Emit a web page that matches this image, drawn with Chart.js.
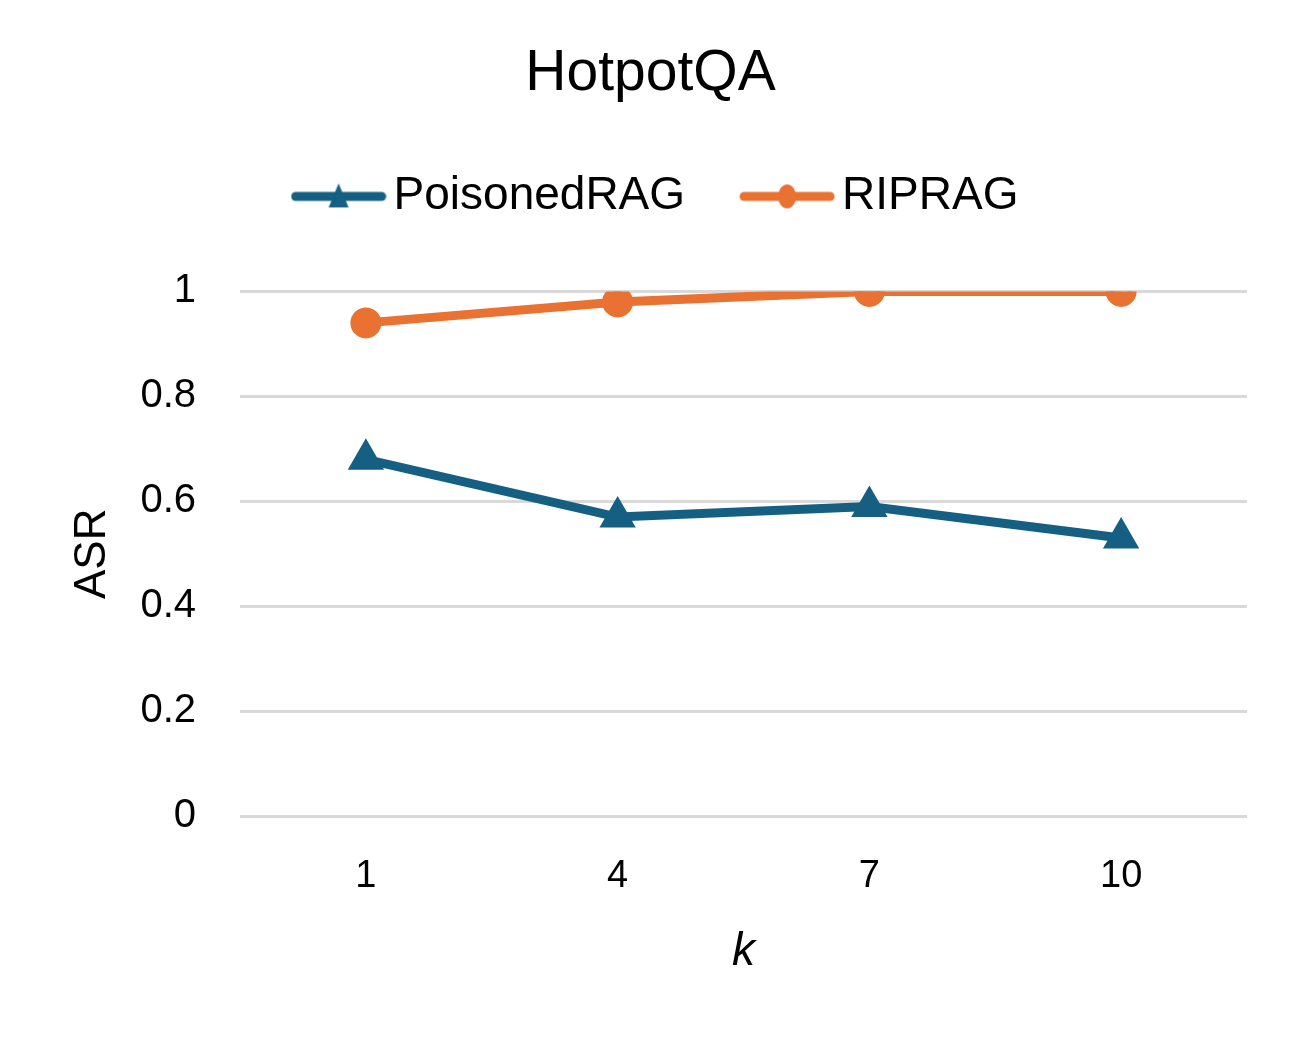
<!DOCTYPE html>
<html>
<head>
<meta charset="utf-8">
<script src="https://cdn.jsdelivr.net/npm/chart.js"></script>
<style>
    html, body { margin: 0; padding: 0; background: #ffffff; }
    #wrap { width: 1298px; height: 1039px; position: relative; }
</style>
</head>
<body>
<div id="wrap"><canvas id="asr-chart"></canvas></div>
<script>
const kValues = ['1', '4', '7', '10'];
const poisonedRagAsr = [0.68, 0.57, 0.59, 0.53];
const ripragAsr = [0.94, 0.98, 1.0, 1.0];
const yTicks = [0, 0.2, 0.4, 0.6, 0.8, 1];

const blue = '#156082';
const orange = '#e97132';
const fontName = "'Liberation Sans', Arial, sans-serif";

// legend swatch: a short line with the marker in the middle
function makeSwatch(color, marker) {
    const c = document.createElement('canvas');
    c.width = 96;
    c.height = 34;
    const ctx = c.getContext('2d');
    ctx.strokeStyle = color;
    ctx.lineWidth = 9;
    ctx.lineCap = 'round';
    ctx.beginPath();
    ctx.moveTo(5, 17);
    ctx.lineTo(91, 17);
    ctx.stroke();
    ctx.fillStyle = color;
    ctx.beginPath();
    if (marker === 'triangle') {
        ctx.moveTo(48, 4);
        ctx.lineTo(58, 28);
        ctx.lineTo(38, 28);
        ctx.closePath();
    } else {
        ctx.ellipse(48, 17, 9, 12, 0, 0, Math.PI * 2);
    }
    ctx.fill();
    return c;
}

const swatches = [makeSwatch(blue, 'triangle'), makeSwatch(orange, 'circle')];

// extra room under the legend, and nudge the row a bit to the right
const legendGap = {
    id: 'legendGap',
    beforeInit(chart) {
        const fit = chart.legend.fit;
        chart.legend.fit = function() {
            fit.call(this);
            this.height += 62;
            if (this.lineWidths && this.lineWidths.length) {
                this.lineWidths[0] -= 24;
            }
        };
    }
};

new Chart(document.getElementById('asr-chart'), {
    type: 'line',
    data: {
        labels: kValues,
        datasets: [
            {
                label: 'PoisonedRAG',
                data: poisonedRagAsr,
                borderColor: blue,
                backgroundColor: blue,
                borderWidth: 9,
                pointStyle: 'triangle',
                pointRadius: 12,
                pointHoverRadius: 12,
                tension: 0
            },
            {
                label: 'RIPRAG',
                data: ripragAsr,
                borderColor: orange,
                backgroundColor: orange,
                borderWidth: 9,
                pointStyle: 'circle',
                pointRadius: 11,
                pointHoverRadius: 11,
                tension: 0
            }
        ]
    },
    options: {
        responsive: true,
        maintainAspectRatio: false,
        animation: false,
        layout: { padding: { top: 40, right: 51, left: 54, bottom: 55 } },
        scales: {
            x: {
                offset: true,
                grid: { display: false, drawTicks: false },
                border: { display: false },
                ticks: { color: '#000', font: { family: fontName, size: 38 }, padding: 38 },
                title: {
                    display: true,
                    text: 'k',
                    color: '#000',
                    font: { family: fontName, size: 46, style: 'italic' },
                    padding: { top: -13 }
                }
            },
            y: {
                min: 0,
                max: 1,
                afterBuildTicks: scale => {
                    scale.ticks = yTicks.map(v => ({ value: v }));
                },
                afterFit: scale => {
                    scale.width = 186;
                },
                grid: { color: '#d9d9d9', lineWidth: 3, drawTicks: false },
                border: { display: false },
                ticks: {
                    color: '#000',
                    font: { family: fontName, size: 40 },
                    padding: 44,
                    callback: v => String(v)
                },
                title: {
                    display: true,
                    text: 'ASR',
                    color: '#000',
                    font: { family: fontName, size: 44 },
                    padding: { top: 12, bottom: 0 }
                }
            }
        },
        plugins: {
            title: {
                display: true,
                text: 'HotpotQA',
                color: '#000',
                font: { family: fontName, size: 57, weight: 'normal' },
                padding: { top: 0, bottom: -5 }
            },
            legend: {
                position: 'top',
                labels: {
                    color: '#000',
                    font: { family: fontName, size: 46 },
                    usePointStyle: true,
                    pointStyleWidth: 64,
                    boxHeight: 34,
                    padding: 70,
                    generateLabels: chart => chart.data.datasets.map((ds, i) => ({
                        text: ds.label,
                        fillStyle: ds.borderColor,
                        strokeStyle: ds.borderColor,
                        pointStyle: swatches[i],
                        datasetIndex: i,
                        fontColor: '#000'
                    }))
                }
            },
            tooltip: { enabled: false }
        }
    },
    plugins: [legendGap]
});
</script>
</body>
</html>
